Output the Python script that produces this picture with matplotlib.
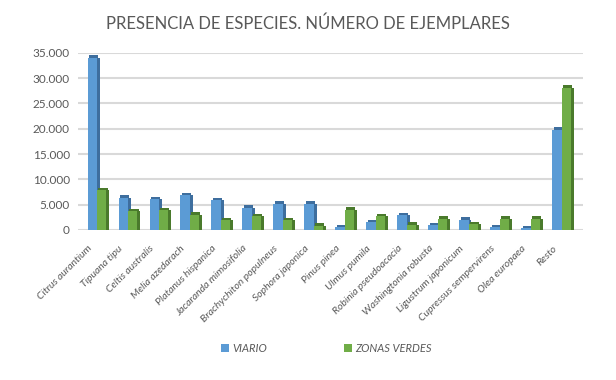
import matplotlib

matplotlib.use("Agg")
import matplotlib.pyplot as plt
from matplotlib.ticker import FuncFormatter
import numpy as np

especies = ["Citrus aurantium", "Tipuana tipu", "Celtis australis", "Melia azedarach",
            "Platanus hispanica", "Jacaranda mimosifolia", "Brachychiton populneus",
            "Sophora japonica", "Pinus pinea", "Ulmus pumila", "Robinia pseudoacacia",
            "Washingtonia robusta", "Ligustrum japonicum", "Cupressus sempervirens",
            "Olea europaea", "Resto"]
viario = [34000, 6400, 6050, 6850, 5900, 4400, 5200, 5200, 550, 1500, 2900, 870,
          2000, 550, 350, 19800]
zonas_verdes = [7800, 3700, 3900, 3000, 1900, 2700, 1950, 800, 4000, 2700, 1000,
                2200, 1150, 2200, 2200, 28100]

plt.rcParams['font.family'] = ['Lato', 'DejaVu Sans']
gris = '#595959'

fig = plt.figure(figsize=(6.16, 3.80), dpi=100)
ax = fig.add_axes([0.127, 0.395, 0.82, 0.466])

x = np.arange(len(especies))
w = 0.3
dx, dy = 0.09, 500  # falso efecto 3D

series = [(viario, -w / 2, '#5B9BD5', '#3E6E9E', 'VIARIO'),
          (zonas_verdes, w / 2, '#70AD47', '#4A7A2C', 'ZONAS VERDES')]
for vals, off, col, dark, lab in series:
    vals = np.array(vals)
    ax.bar(x + off + dx, vals, w, color=dark, zorder=2)
    ax.bar(x + off + dx / 2, vals + dy, w, color=dark, zorder=2)
    ax.bar(x + off, vals, w, color=col, zorder=3, label=lab)

ax.set_ylim(0, 35000)
ax.set_xlim(-0.6, len(especies) - 0.3)
ax.set_yticks(np.arange(0, 35001, 5000))
ax.yaxis.set_major_formatter(FuncFormatter(lambda v, p: f"{int(v):,}".replace(",", ".")))
ax.grid(axis='y', color='#D9D9D9', linewidth=1.5, zorder=0)
ax.set_axisbelow(True)
for s in ax.spines.values():
    s.set_visible(False)
ax.tick_params(axis='y', length=0, labelsize=8.5, colors=gris, pad=6)
ax.tick_params(axis='x', length=0, pad=10)
ax.set_xticks(x - 0.3)
ax.set_xticklabels(especies, rotation=45, ha='right', rotation_mode='anchor',
                   fontstyle='italic', fontsize=7.5, color=gris)

fig.suptitle("PRESENCIA DE ESPECIES. NÚMERO DE EJEMPLARES", y=0.958,
             fontsize=12, color=gris)

fig.legend(loc='center', bbox_to_anchor=(0.53, 0.083), ncol=2, frameon=False,
           prop={'style': 'italic', 'size': 8}, labelcolor=gris,
           handlelength=0.7, handleheight=0.7, handletextpad=0.3, columnspacing=7)

fig.savefig("out.png", dpi=100)
